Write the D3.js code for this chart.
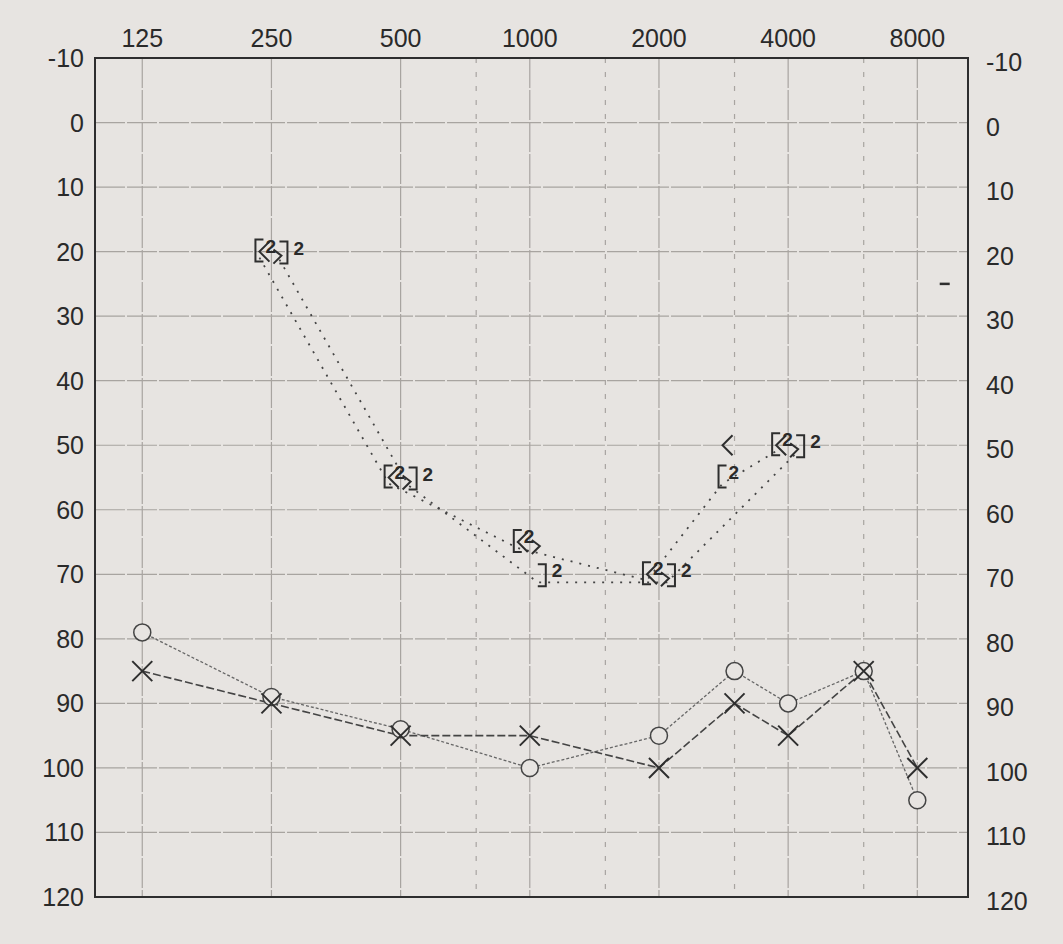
<!DOCTYPE html>
<html><head><meta charset="utf-8">
<script src="https://cdn.jsdelivr.net/npm/d3@7"></script>
<style>
html,body{margin:0;padding:0;background:#e7e4e1;}
svg{display:block;}
text{font-family:"Liberation Sans",Arial,sans-serif;fill:#2a2a2a;}
</style></head>
<body>
<script>
// ---- data ----
const freqTicks = [125, 250, 500, 1000, 2000, 4000, 8000];
const freqMid = [750, 1500, 3000, 6000];
const dbTicks = [-10, 0, 10, 20, 30, 40, 50, 60, 70, 80, 90, 100, 110, 120];
const acFreqs = [125, 250, 500, 1000, 2000, 3000, 4000, 6000, 8000];
const acRight = [79, 89, 94, 100, 95, 85, 90, 85, 105];   // O
const acLeft  = [85, 90, 95, 95, 100, 90, 95, 85, 100];   // X
const bcRightMaskedFreqs = [250, 500, 1000, 2000, 3000, 4000];
const bcRightMasked = [20, 55, 65, 70, 55, 50];           // [
const bcLeftMaskedFreqs = [250, 500, 1000, 2000, 4000];
const bcLeftMasked = [20, 55, 70, 70, 50];                // ]
const bcRightUnmaskedFreqs = [250, 500, 1000, 2000, 3000, 4000];
const bcRightUnmasked = [20, 55, 65, 70, 50, 50];         // <
const bcLeftUnmaskedFreqs = [250, 500, 1000, 2000, 4000];
const bcLeftUnmasked = [20, 55, 65, 70, 50];              // >
const maskLabel = "2";

const W = 1063, H = 944;
const L = 95, R = 968, T = 58, B = 897;
const svg = d3.select("body").append("svg").attr("width", W).attr("height", H);

const x = d3.scaleLog().base(2).domain([97, 10500]).range([L, R]);
const y = d3.scaleLinear().domain([-10, 120]).range([T, B]);

const ink = "#2e2e2e", grid = "#a8a4a0", bg = "#e7e4e1";

// grid
const g = svg.append("g");
g.selectAll(".hg").data(dbTicks.slice(1, -1)).enter().append("line")
  .attr("x1", L).attr("x2", R).attr("y1", d => y(d)).attr("y2", d => y(d))
  .attr("stroke", grid).attr("stroke-width", 1.2).attr("stroke-dasharray", "30,2");
g.selectAll(".vg").data(freqTicks).enter().append("line")
  .attr("x1", d => x(d)).attr("x2", d => x(d)).attr("y1", T).attr("y2", B)
  .attr("stroke", grid).attr("stroke-width", 1.2).attr("stroke-dasharray", "30,2");
g.selectAll(".vm").data(freqMid).enter().append("line")
  .attr("x1", d => x(d)).attr("x2", d => x(d)).attr("y1", T).attr("y2", B)
  .attr("stroke", grid).attr("stroke-width", 1.2).attr("stroke-dasharray", "5,9");

// frame
svg.append("rect").attr("x", L).attr("y", T).attr("width", R - L).attr("height", B - T)
  .attr("fill", "none").attr("stroke", ink).attr("stroke-width", 2);

// axes labels
svg.append("g").selectAll("text").data(freqTicks).enter().append("text")
  .attr("x", d => x(d)).attr("y", 47).attr("text-anchor", "middle")
  .attr("font-size", 25).text(d => d);
svg.append("g").selectAll("text").data(dbTicks).enter().append("text")
  .attr("x", 84).attr("y", d => y(d) + 9).attr("text-anchor", "end")
  .attr("font-size", 25).text(d => d);
svg.append("g").selectAll("text").data(dbTicks).enter().append("text")
  .attr("x", 986).attr("y", d => y(d) + 13).attr("text-anchor", "start")
  .attr("font-size", 25).text(d => d);

// small mark on right
svg.append("line").attr("x1", x(6000) + 76).attr("x2", x(6000) + 86)
  .attr("y1", y(25)).attr("y2", y(25)).attr("stroke", ink).attr("stroke-width", 2.5);

// AC lines
const acLine = d3.line().x(d => x(d[0])).y(d => y(d[1]));
svg.append("path").datum(acFreqs.map((f, i) => [f, acRight[i]]))
  .attr("d", acLine).attr("fill", "none").attr("stroke", "#666").attr("stroke-width", 1.3)
  .attr("stroke-dasharray", "3,2");
svg.append("path").datum(acFreqs.map((f, i) => [f, acLeft[i]]))
  .attr("d", acLine).attr("fill", "none").attr("stroke", "#444").attr("stroke-width", 1.6)
  .attr("stroke-dasharray", "8,3");

// O symbols
svg.append("g").selectAll("circle").data(acFreqs.map((f, i) => [f, acRight[i]])).enter()
  .append("circle").attr("cx", d => x(d[0])).attr("cy", d => y(d[1])).attr("r", 8.5)
  .attr("fill", bg).attr("stroke", "#444").attr("stroke-width", 1.5);
// X symbols
svg.append("g").selectAll("path").data(acFreqs.map((f, i) => [f, acLeft[i]])).enter()
  .append("path").attr("d", d => {
    const cx = x(d[0]), cy = y(d[1]), s = 10;
    return `M${cx - s},${cy - s}L${cx + s},${cy + s}M${cx + s},${cy - s}L${cx - s},${cy + s}`;
  }).attr("stroke", ink).attr("stroke-width", 2).attr("fill", "none");

// BC dotted lines
const bcLineR = d3.line().x(d => x(d[0]) - 12).y(d => y(d[1]) + 6);
const bcLineL = d3.line().x(d => x(d[0]) + 8).y(d => y(d[1]) + 8);
svg.append("path").datum(bcRightMaskedFreqs.map((f, i) => [f, bcRightMasked[i]]))
  .attr("d", bcLineR).attr("fill", "none").attr("stroke", "#444").attr("stroke-width", 1.8)
  .attr("stroke-dasharray", "2,7");
svg.append("path").datum(bcLeftMaskedFreqs.map((f, i) => [f, bcLeftMasked[i]]))
  .attr("d", bcLineL).attr("fill", "none").attr("stroke", "#444").attr("stroke-width", 1.8)
  .attr("stroke-dasharray", "2,7");

const bcSym = svg.append("g").attr("stroke", ink).attr("stroke-width", 2).attr("fill", "none");
// [ masked right BC
bcRightMaskedFreqs.forEach((f, i) => {
  const cx = x(f), cy = y(bcRightMasked[i]);
  bcSym.append("path").attr("d", `M${cx - 8},${cy - 12}H${cx - 16}V${cy + 10}H${cx - 8}`);
  svg.append("text").attr("x", cx - 6).attr("y", cy + 1).attr("font-size", 19)
    .attr("font-weight", "bold").text(maskLabel);
});
// ] masked left BC
bcLeftMaskedFreqs.forEach((f, i) => {
  const cx = x(f), cy = y(bcLeftMasked[i]);
  bcSym.append("path").attr("d", `M${cx + 8},${cy - 10}H${cx + 16}V${cy + 12}H${cx + 8}`);
  svg.append("text").attr("x", cx + 22).attr("y", cy + 3).attr("font-size", 19)
    .attr("font-weight", "bold").text(maskLabel);
});
// < unmasked right BC
bcRightUnmaskedFreqs.forEach((f, i) => {
  const cx = x(f), cy = y(bcRightUnmasked[i]);
  bcSym.append("path").attr("d", `M${cx - 2},${cy - 10}L${cx - 12},${cy}L${cx - 2},${cy + 10}`);
});
// > unmasked left BC
bcLeftUnmaskedFreqs.forEach((f, i) => {
  const cx = x(f), cy = y(bcLeftUnmasked[i]);
  bcSym.append("path").attr("d", `M${cx + 2},${cy - 2}L${cx + 10},${cy + 4}L${cx + 2},${cy + 12}`);
});
</script>
</body></html>
